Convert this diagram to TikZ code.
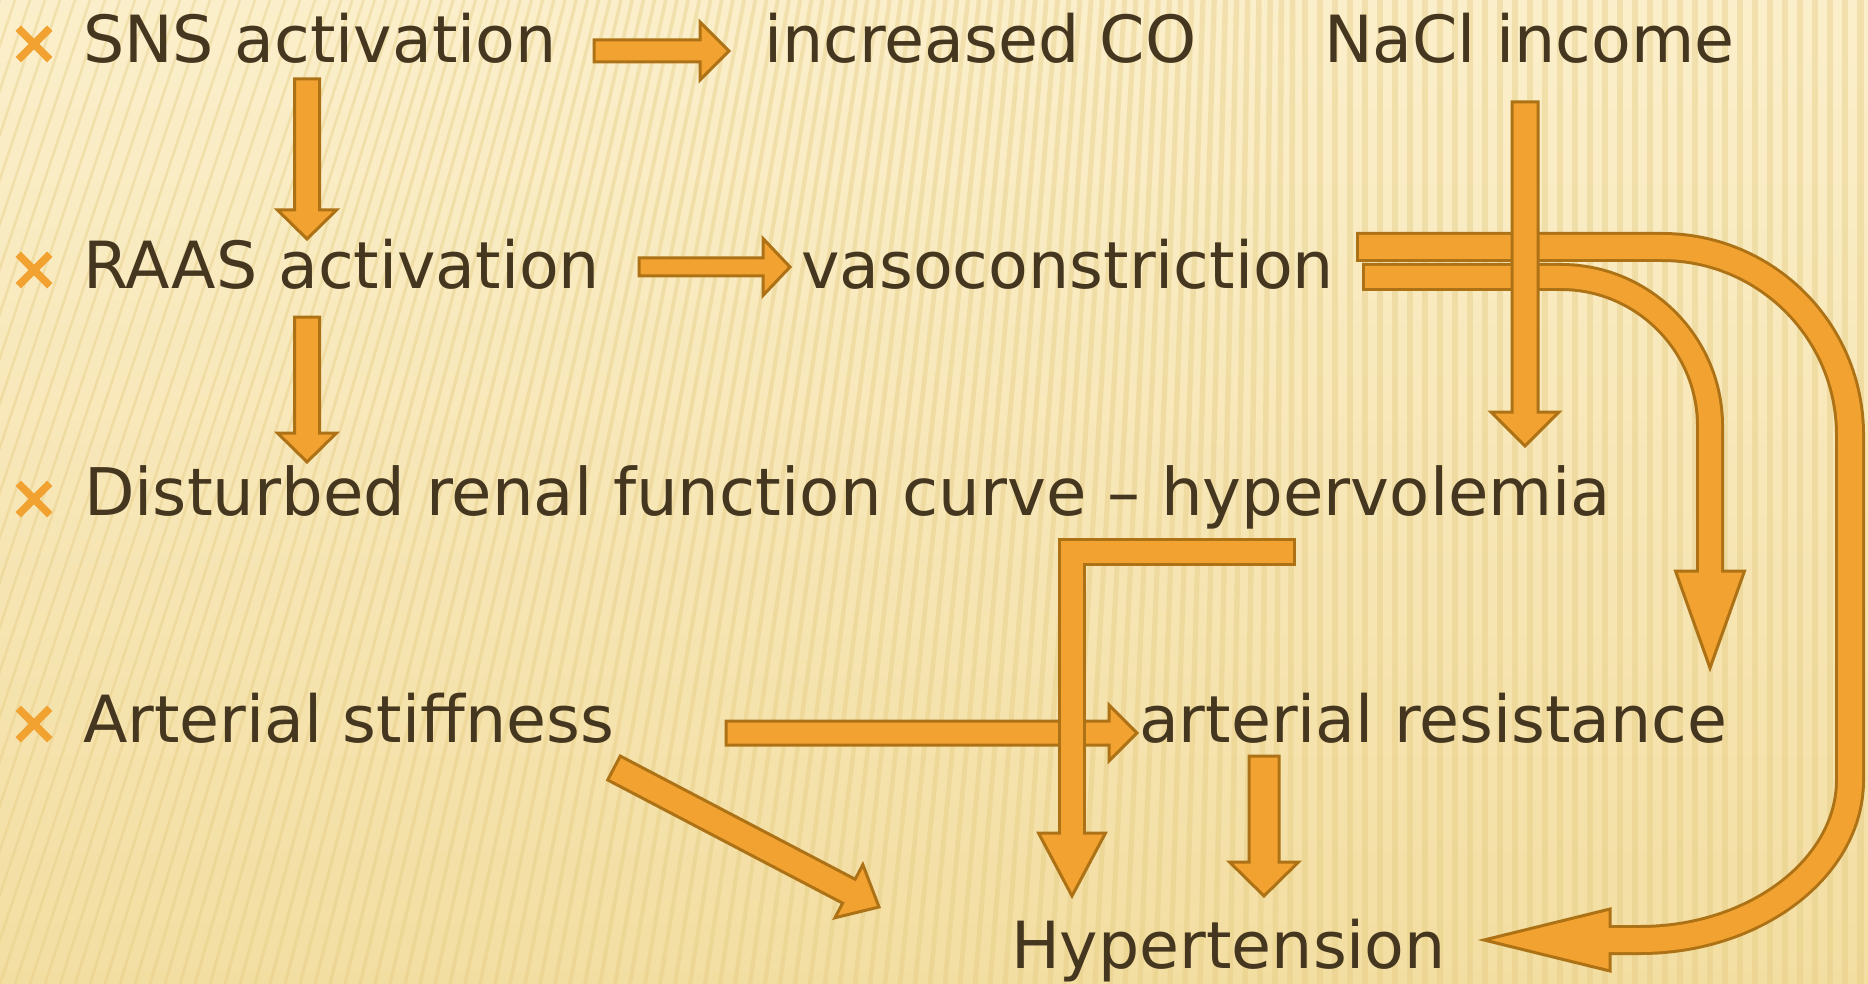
\documentclass[tikz,border=0pt]{standalone}
\usepackage{fontspec}
\setmainfont{DejaVu Sans}
\usetikzlibrary{calc,shapes.misc}
\definecolor{bgtop}{HTML}{FBEFCB}
\definecolor{bgbot}{HTML}{F3DEA2}
\definecolor{stripe}{HTML}{E4CB80}
\definecolor{arrfill}{HTML}{F2A231}
\definecolor{arrline}{HTML}{AD7215}
\definecolor{txt}{HTML}{45361F}
\tikzset{
  lbl/.style={anchor=base west, inner sep=0pt, outer sep=0pt, text=txt, font=\fontsize{65}{72}\selectfont},
  bul/.style={cross out, draw=arrfill, line width=7.5pt, minimum size=24pt, inner sep=0pt},
  blk/.style={fill=arrfill, draw=arrline, line width=3pt, line join=miter},
  shaftO/.style={draw=arrline, line width=#1, shorten <=-3pt, line join=miter},
  shaftI/.style={draw=arrfill, line width=#1, shorten >=-5pt, line join=miter},
}
\newcommand\blkarrow[5]{%
  \coordinate (ba-c) at ($(#2)!#5pt!(#1)$);
  \filldraw[blk] ($(#1)!#3pt!90:(#2)$) -- ($(ba-c)!#3pt!-90:(#1)$) -- ($(ba-c)!#4pt!-90:(#1)$) -- (#2) -- ($(ba-c)!#4pt!90:(#1)$) -- ($(ba-c)!#3pt!90:(#1)$) -- ($(#1)!#3pt!-90:(#2)$) -- cycle;}
\begin{document}
\begin{tikzpicture}[x=1pt,y=-1pt]
\useasboundingbox (0,0) rectangle (1868,984);
\shade[top color=bgtop, bottom color=bgbot] (0,0) rectangle (1868,984);
\begin{scope}
\clip (0,0) rectangle (1868,984);
\foreach \i in {0,...,155}{
  \pgfmathsetmacro\xb{\i*15-420}
  \pgfmathsetmacro\sh{max(0,330*(1-max(\xb,0)/1300))}
  \pgfmathsetmacro\lw{2.5+4.5*max(\xb,0)/1868}
  \draw[stripe, line width=\lw pt, opacity=0.4] (\xb,984) -- (\xb+\sh,0);
}
\end{scope}

% bullets
\node[bul] (b1) at (34,44) {};
\node[bul] (b2) at (34,270) {};
\node[bul] (b3) at (34,499) {};
\node[bul] (b4) at (34,724) {};

% straight arrows
\coordinate (a1s) at (594,51); \coordinate (a1e) at (729,51);
\blkarrow{a1s}{a1e}{11}{29}{29}
\coordinate (a2s) at (307,79); \coordinate (a2e) at (307,239);
\blkarrow{a2s}{a2e}{12.5}{29.5}{29}
\coordinate (a3s) at (639,267); \coordinate (a3e) at (790,267);
\blkarrow{a3s}{a3e}{9}{28.5}{27}
\coordinate (a4s) at (307,317); \coordinate (a4e) at (307,462);
\blkarrow{a4s}{a4e}{12.5}{29.5}{29}

% curved arrow vasoconstriction -> Hypertension (outer)
\coordinate (c1s) at (1359,247); \coordinate (c1b) at (1610,940); \coordinate (c1e) at (1484,940);
\draw[shaftO=30pt] (c1s) -- (1662,247) .. controls (1766,247) and (1850,331) .. (1850,435) -- (1850,780) .. controls (1850,868) and (1755,940) .. (1640,940) -- (c1b);
\filldraw[blk] ($(c1b)+(0,-31)$) -- (c1e) -- ($(c1b)+(0,31)$) -- cycle;
\draw[shaftI=24pt] (c1s) -- (1662,247) .. controls (1766,247) and (1850,331) .. (1850,435) -- (1850,780) .. controls (1850,868) and (1755,940) .. (1640,940) -- (c1b);

% curved arrow vasoconstriction -> arterial resistance (inner)
\coordinate (c2s) at (1365,277); \coordinate (c2b) at (1710,571); \coordinate (c2e) at (1710,668);
\draw[shaftO=28pt] (c2s) -- (1561,277) .. controls (1643,277) and (1710,344) .. (1710,426) -- (c2b);
\filldraw[blk] ($(c2b)+(-34.5,0)$) -- (c2e) -- ($(c2b)+(34.5,0)$) -- cycle;
\draw[shaftI=22pt] (c2s) -- (1561,277) .. controls (1643,277) and (1710,344) .. (1710,426) -- (c2b);

% NaCl income -> down
\coordinate (n1s) at (1525,102); \coordinate (n1e) at (1525,446);
\blkarrow{n1s}{n1e}{13}{34}{34}

% Arterial stiffness -> arterial resistance
\coordinate (h1s) at (726,733); \coordinate (h1e) at (1137,733);
\blkarrow{h1s}{h1e}{12}{28}{28}

% hypervolemia -> Hypertension (L-shaped)
\coordinate (l1s) at (1293,552); \coordinate (l1c) at (1072,552); \coordinate (l1b) at (1072,833); \coordinate (l1e) at (1072,896);
\draw[shaftO=28pt] (l1s) -- (l1c) -- (l1b);
\filldraw[blk] ($(l1b)+(-33.5,0)$) -- (l1e) -- ($(l1b)+(33.5,0)$) -- cycle;
\draw[shaftI=22pt] (l1s) -- (l1c) -- (l1b);

% Arterial stiffness -> Hypertension (diagonal)
\coordinate (d1s) at (614,768); \coordinate (d1e) at (879,907);
\blkarrow{d1s}{d1e}{13.5}{30}{34}

% arterial resistance -> Hypertension
\coordinate (r1s) at (1264,756); \coordinate (r1e) at (1264,896);
\blkarrow{r1s}{r1e}{15}{34.5}{34}

% texts
\node[lbl] (sns) at (83,63) {SNS activation};
\node[lbl] (co) at (764,63) {increased CO};
\node[lbl] (nacl) at (1324,63) {NaCl income};
\node[lbl] (raas) at (83,289) {RAAS activation};
\node[lbl] (vaso) at (801,289) {vasoconstriction};
\node[lbl, font=\fontsize{65.7}{72}\selectfont] (renal) at (84,515) {Disturbed renal function curve – hypervolemia};
\node[lbl] (stiff) at (83,742) {Arterial stiffness};
\node[lbl] (resist) at (1139,742) {arterial resistance};
\node[lbl] (htn) at (1011,968) {Hypertension};
\end{tikzpicture}
\end{document}
